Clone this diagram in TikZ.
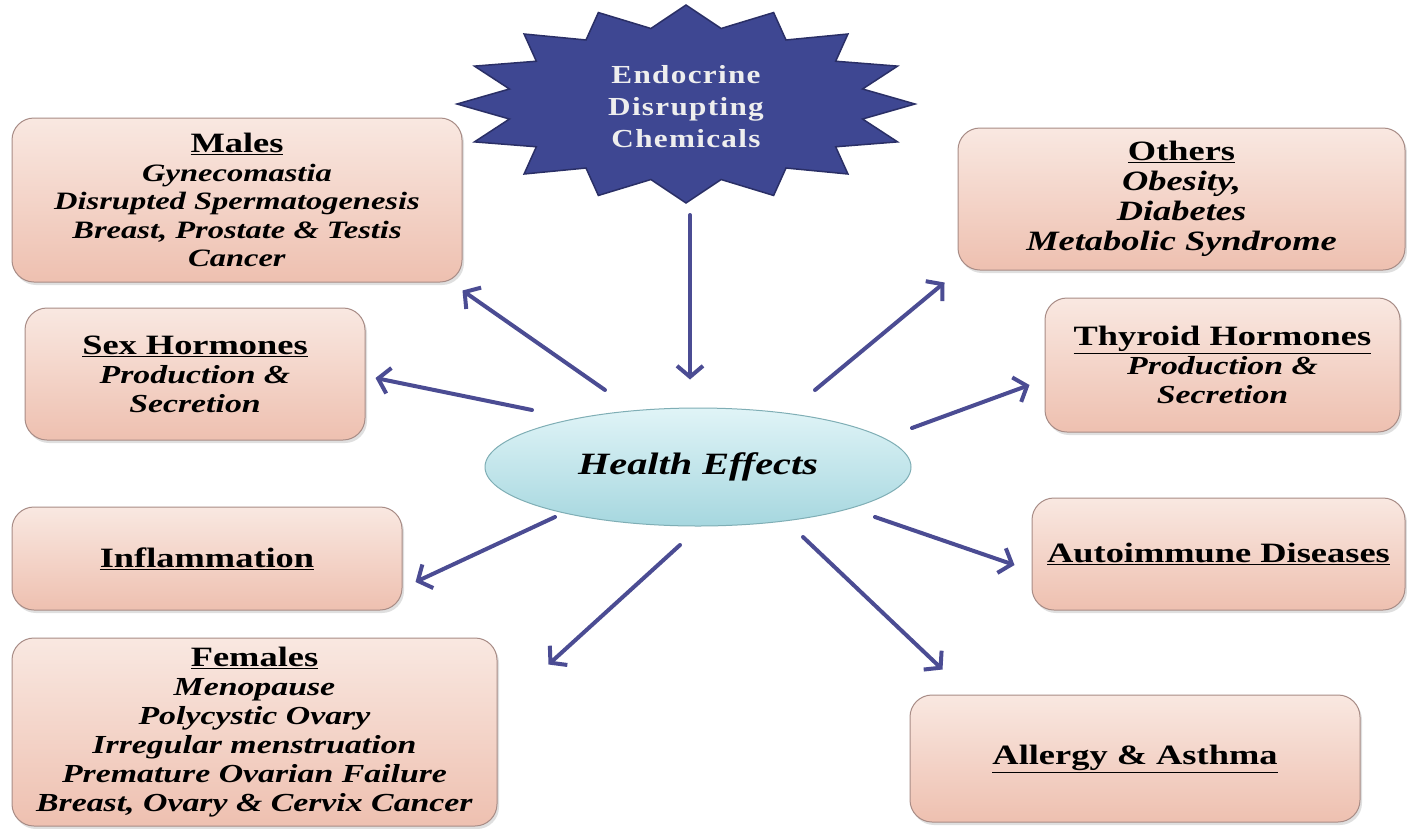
\documentclass[tikz,border=0pt]{standalone}
\usepackage{fontspec}
\setmainfont{Liberation Serif}
\newfontfamily\boxfont[FakeStretch=1.3]{Liberation Serif}
\newfontfamily\starfont[FakeStretch=1.2,LetterSpace=5]{Liberation Serif}
\usetikzlibrary{arrows.meta,shadows,shapes.geometric}
\definecolor{boxtop}{HTML}{F9E8E1}
\definecolor{boxbot}{HTML}{EEC0B0}
\definecolor{boxline}{HTML}{A88C86}
\definecolor{ellTop}{HTML}{E0F4F7}
\definecolor{ellBot}{HTML}{A6D7DF}
\definecolor{ellLine}{HTML}{7FAEB5}
\definecolor{starFill}{HTML}{3E4792}
\definecolor{starLine}{HTML}{2A2F66}
\definecolor{starText}{HTML}{EEEEEE}
\definecolor{arrCol}{HTML}{4B4C93}
\newcommand\hdr[1]{{\fontsize{28}{29}\selectfont\textbf{\underline{#1}}}}
\newcommand\itl[1]{\textbf{\textit{#1}}}
\tikzset{
  infobox/.style={rounded corners=22pt, draw=boxline, line width=1pt,
    top color=boxtop, bottom color=boxbot,
    drop shadow={opacity=0.25, shadow xshift=2pt, shadow yshift=-3pt},
    align=center, inner sep=0pt,
    font=\boxfont\fontsize{26}{29}\selectfont},
  arr/.style={draw=arrCol, line width=4pt, line cap=round,
    -{Straight Barb[length=11pt,width=26pt]}},
  starsty/.style={fill=starFill, draw=starLine, line width=1.5pt, line join=miter},
}
\begin{document}
\begin{tikzpicture}[x=1pt,y=-1pt]
\fill[white] (0,0) rectangle (1407,828);
\useasboundingbox (0,0) rectangle (1407,828);

% star
\begin{scope}[shift={(686,104)}]
\draw[starsty] (90:229 and 99) \foreach \i in {0,...,15} { -- ({101.25+22.5*\i}:180 and 77) -- ({112.5+22.5*\i}:229 and 99) } -- cycle;
\end{scope}
\node[align=center, text=starText, inner sep=0pt, font=\starfont\bfseries\fontsize{26}{32}\selectfont] (edc) at (686,107) {Endocrine\\Disrupting\\Chemicals};

% central ellipse
\node[ellipse, minimum width=426pt, minimum height=118pt, inner sep=0pt,
  draw=ellLine, line width=1pt, top color=ellTop, bottom color=ellBot,
  font=\boxfont\fontsize{31}{34}\selectfont] (he) at (698,467) {\itl{Health Effects}};

% boxes
\node[infobox, minimum width=450pt, minimum height=164pt, font=\boxfont\fontsize{25}{28.5}\selectfont] (males) at (237,200)
  {\hdr{Males}\\ \itl{Gynecomastia}\\ \itl{Disrupted Spermatogenesis}\\ \itl{Breast, Prostate \& Testis}\\ \itl{Cancer}};
\node[infobox, minimum width=340pt, minimum height=132pt] (sex) at (195,374)
  {\hdr{Sex Hormones}\\ \itl{Production \&}\\ \itl{Secretion}};
\node[infobox, minimum width=390pt, minimum height=103pt] (infl) at (207,558.5)
  {\hdr{Inflammation}};
\node[infobox, minimum width=485pt, minimum height=188pt] (fem) at (254.5,732)
  {\hdr{Females}\\ \itl{Menopause}\\ \itl{Polycystic Ovary}\\ \itl{Irregular menstruation}\\ \itl{Premature Ovarian Failure}\\ \itl{Breast, Ovary \& Cervix Cancer}};
\node[infobox, minimum width=447pt, minimum height=142pt, font=\boxfont\fontsize{28}{30}\selectfont] (oth) at (1181.5,199)
  {\hdr{Others}\\ \itl{Obesity,}\\ \itl{Diabetes}\\ \itl{Metabolic Syndrome}};
\node[infobox, minimum width=355pt, minimum height=134pt] (thy) at (1222.5,365)
  {\hdr{Thyroid Hormones}\\ \itl{Production \&}\\ \itl{Secretion}};
\node[infobox, minimum width=373pt, minimum height=112pt] (auto) at (1218.5,554)
  {\hdr{Autoimmune Diseases}};
\node[infobox, minimum width=450pt, minimum height=127pt] (all) at (1135,758.5)
  {\hdr{Allergy \& Asthma}};

% arrows
\draw[arr] ([shift={(4,108)}]edc.center) -- ([shift={(-8,-28)}]he.north);
\draw[arr] ([shift={(-93,-77)}]he.center) -- ([shift={(0,8)}]males.south east);
\draw[arr] ([shift={(-166,-57)}]he.center) -- ([shift={(10,4)}]sex.east);
\draw[arr] ([shift={(-143,50)}]he.center) -- ([shift={(13,23.5)}]infl.east);
\draw[arr] ([shift={(-18,78)}]he.center) -- ([shift={(51,27)}]fem.north east);
\draw[arr] ([shift={(117,-77)}]he.center) -- ([shift={(-13,12)}]oth.south west);
\draw[arr] ([shift={(214,-39)}]he.center) -- ([shift={(-15,20)}]thy.west);
\draw[arr] ([shift={(177,50)}]he.center) -- ([shift={(-17,11)}]auto.west);
\draw[arr] ([shift={(105,70)}]he.center) -- ([shift={(33,-25)}]all.north west);
\end{tikzpicture}
\end{document}
